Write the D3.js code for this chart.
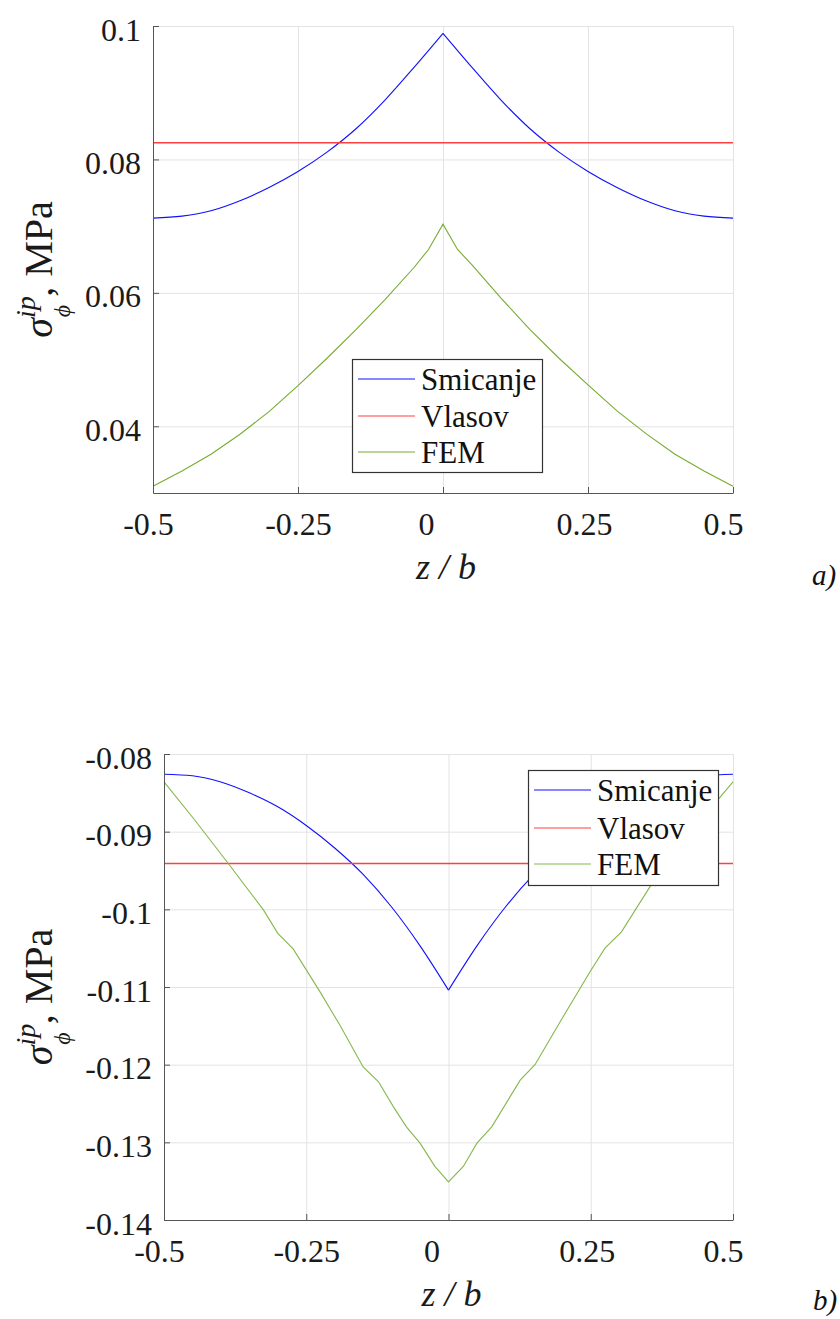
<!DOCTYPE html>
<html>
<head>
<meta charset="utf-8">
<script src="https://cdn.jsdelivr.net/npm/d3@7"></script>
<style>
  body { margin: 0; background: #fff; }
  text { font-family: "Liberation Serif", "Times New Roman", serif; }
</style>
</head>
<body>
<script>
// shared x axis
const xTicks = [-0.5, -0.25, 0, 0.25, 0.5];
const xTickLabels = ["-0.5", "-0.25", "0", "0.25", "0.5"];
const seriesNames = ["Smicanje", "Vlasov", "FEM"];

// panel a) values
const zA = [-0.5, -0.45, -0.4, -0.35, -0.3, -0.25, -0.2, -0.15, -0.1, -0.05, 0,
            0.05, 0.1, 0.15, 0.2, 0.25, 0.3, 0.35, 0.4, 0.45, 0.5];
const smicanjeA = [0.0712, 0.0715, 0.0723, 0.0738, 0.0758, 0.0782, 0.0811, 0.0846, 0.0889, 0.0938, 0.0989,
                   0.0938, 0.0889, 0.0846, 0.0811, 0.0782, 0.0758, 0.0738, 0.0723, 0.0715, 0.0712];
const vlasovZA = [-0.5, 0.5];
const vlasovA = [0.0825, 0.0825];
const femZA = [-0.5, -0.45, -0.4, -0.35, -0.3, -0.25, -0.2, -0.15, -0.1, -0.05, -0.025, 0,
               0.025, 0.05, 0.1, 0.15, 0.2, 0.25, 0.3, 0.35, 0.4, 0.45, 0.5];
const femA = [0.0310, 0.0333, 0.0358, 0.0388, 0.0422, 0.0461, 0.0502, 0.0545, 0.0590, 0.0638, 0.0665, 0.0703,
              0.0665, 0.0642, 0.0592, 0.0545, 0.0502, 0.0462, 0.0423, 0.0389, 0.0358, 0.0333, 0.0310];
const yTicksA = [0.04, 0.06, 0.08, 0.1];
const yTickLabelsA = ["0.04", "0.06", "0.08", "0.1"];

// panel b)
const zB = [-0.5, -0.45, -0.4, -0.35, -0.3, -0.25, -0.2, -0.15, -0.1, -0.05, 0,
            0.05, 0.1, 0.15, 0.2, 0.25, 0.3, 0.35, 0.4, 0.45, 0.5];
const smicanjeB = [-0.0826, -0.0828, -0.0836, -0.0850, -0.0868, -0.0892, -0.0921, -0.0955, -0.0997, -0.1047, -0.1104,
                   -0.1047, -0.0997, -0.0955, -0.0921, -0.0892, -0.0868, -0.0850, -0.0836, -0.0828, -0.0826];
const vlasovZB = [-0.5, 0.5];
const vlasovB = [-0.0941, -0.0941];
const femZB = [-0.5, -0.446, -0.387, -0.325, -0.3, -0.273, -0.226, -0.191, -0.15, -0.123, -0.097, -0.074, -0.05, -0.024, 0,
               0.026, 0.05, 0.076, 0.126, 0.152, 0.196, 0.249, 0.275, 0.304, 0.36, 0.471, 0.5];
const femB = [-0.0836, -0.0885, -0.0941, -0.1001, -0.1031, -0.1051, -0.1106, -0.1149, -0.1203, -0.1222, -0.1254, -0.1280, -0.1301, -0.1331, -0.1351,
              -0.1331, -0.1301, -0.1280, -0.1220, -0.1200, -0.1145, -0.1080, -0.1050, -0.1029, -0.0964, -0.0861, -0.0836];
const yTicksB = [-0.14, -0.13, -0.12, -0.11, -0.1, -0.09, -0.08];
const yTickLabelsB = ["-0.14", "-0.13", "-0.12", "-0.11", "-0.1", "-0.09", "-0.08"];

// tick label nudges seen in the figure
const xLabelShift = [-5, 0, -17, -4, -10];
const serif = "Liberation Serif";

var svg = d3.select("body").append("svg")
    .attr("width", 840)
    .attr("height", 1319);

function pts(zs, vs) {
    return zs.map((z, i) => ({ z: z, v: vs[i] }));
}

function drawPanel(p) {
    var x = d3.scaleLinear().domain([-0.5, 0.5]).range([p.left, p.right]);
    var y = d3.scaleLinear().domain(p.yDomain).range([p.bottom, p.top]);
    var h = p.bottom - p.top, w = p.right - p.left;

    // grid
    svg.append("g").attr("transform", `translate(0,${p.bottom})`)
        .call(d3.axisBottom(x).tickValues(xTicks).tickSize(-h).tickFormat(""))
        .call(g => g.select(".domain").remove())
        .call(g => g.selectAll("line").attr("stroke", "#e3e3e3"));
    svg.append("g").attr("transform", `translate(${p.left},0)`)
        .call(d3.axisLeft(y).tickValues(p.yTicks).tickSize(-w).tickFormat(""))
        .call(g => g.select(".domain").remove())
        .call(g => g.selectAll("line").attr("stroke", "#e3e3e3"));

    var smooth = d3.line().x(d => x(d.z)).y(d => y(d.v)).curve(d3.curveMonotoneX);
    var straight = d3.line().x(d => x(d.z)).y(d => y(d.v));

    // Smicanje has a cusp at 0, so each half is smoothed on its own
    var s = pts(p.zs, p.smicanje);
    [s.filter(d => d.z <= 0), s.filter(d => d.z >= 0)].forEach(half => {
        svg.append("path").attr("d", smooth(half))
            .attr("fill", "none").attr("stroke", "#1010ff").attr("stroke-width", 1.1);
    });
    svg.append("path").attr("d", straight(pts(p.vlasovZ, p.vlasov)))
        .attr("fill", "none").attr("stroke", "#ff4040").attr("stroke-width", 1.4);
    svg.append("path").attr("d", straight(pts(p.femZ, p.fem)))
        .attr("fill", "none").attr("stroke", p.femColor).attr("stroke-width", 1.1);

    // axes, ticks point inward
    var xa = svg.append("g").attr("transform", `translate(0,${p.bottom})`)
        .call(d3.axisBottom(x).tickValues(xTicks).tickSizeInner(-6).tickSizeOuter(0)
            .tickFormat((d, i) => xTickLabels[i]))
        .attr("font-family", serif).attr("font-size", 32);
    xa.select(".domain").attr("stroke", "#555");
    xa.selectAll(".tick line").attr("stroke", "#555");
    xa.selectAll(".tick text").attr("y", 42).attr("dy", null)
        .attr("dx", (d, i) => xLabelShift[i]).attr("fill", "#1a1a1a");

    var ya = svg.append("g").attr("transform", `translate(${p.left},0)`)
        .call(d3.axisLeft(y).tickValues(p.yTicks).tickSizeInner(-6).tickSizeOuter(0)
            .tickFormat((d, i) => p.yLabels[i]))
        .attr("font-family", serif).attr("font-size", 32);
    ya.select(".domain").attr("stroke", "#555");
    ya.selectAll(".tick line").attr("stroke", "#555");
    ya.selectAll(".tick text").attr("x", -12).attr("dy", null).attr("y", 14).attr("fill", "#1a1a1a");

    // axis titles
    svg.append("text")
        .attr("x", (p.left + p.right) / 2 + 3).attr("y", p.bottom + 86)
        .attr("text-anchor", "middle").attr("font-size", 36).attr("font-style", "italic")
        .attr("fill", "#1a1a1a")
        .text("z / b");

    var yl = svg.append("text")
        .attr("transform", `translate(52,${(p.top + p.bottom) / 2 + 10}) rotate(-90)`)
        .attr("text-anchor", "middle").attr("font-size", 40).attr("fill", "#1a1a1a");
    yl.append("tspan").attr("font-style", "italic").text("σ");
    yl.append("tspan").attr("font-style", "italic").attr("font-size", 28).attr("dy", -17).text("ip");
    yl.append("tspan").attr("font-style", "italic").attr("font-size", 24).attr("dx", -21).attr("dy", 35).text("ϕ");
    yl.append("tspan").attr("dx", 8).attr("dy", -18).text(", MPa");

    // legend
    var lg = svg.append("g").attr("transform", `translate(${p.legend[0]},${p.legend[1]})`);
    lg.append("rect").attr("x", 0.5).attr("y", 0.5).attr("width", 190).attr("height", p.legendH)
        .attr("fill", "#fff").attr("stroke", "#333").attr("stroke-width", 1.2);
    var colors = ["#1010ff", "#ff4040", p.femColor];
    seriesNames.forEach((name, i) => {
        var ry = p.legendRows[i];
        lg.append("line").attr("x1", 6).attr("x2", 63).attr("y1", ry).attr("y2", ry)
            .attr("stroke", colors[i]).attr("stroke-width", 1.1);
        lg.append("text").attr("x", 69).attr("y", ry + 11)
            .attr("font-size", 31).attr("fill", "#111").text(name);
    });

    svg.append("text").attr("x", p.tag[0]).attr("y", p.tag[1])
        .attr("font-size", 29).attr("font-style", "italic").attr("fill", "#111")
        .text(p.tagText);
}

drawPanel({
    left: 153, right: 733, top: 26, bottom: 493,
    yDomain: [0.03, 0.1], yTicks: yTicksA, yLabels: yTickLabelsA,
    zs: zA, smicanje: smicanjeA, vlasovZ: vlasovZA, vlasov: vlasovA, femZ: femZA, fem: femA,
    femColor: "#77ac30",
    legend: [352, 359], legendH: 113, legendRows: [20, 57, 93],
    tag: [812, 585], tagText: "a)"
});

drawPanel({
    left: 164, right: 733, top: 754, bottom: 1220,
    yDomain: [-0.14, -0.08], yTicks: yTicksB, yLabels: yTickLabelsB,
    zs: zB, smicanje: smicanjeB, vlasovZ: vlasovZB, vlasov: vlasovB, femZ: femZB, fem: femB,
    femColor: "#84b84c",
    legend: [528, 770], legendH: 115, legendRows: [20, 58, 94],
    tag: [813, 1310], tagText: "b)"
});
</script>
</body>
</html>
